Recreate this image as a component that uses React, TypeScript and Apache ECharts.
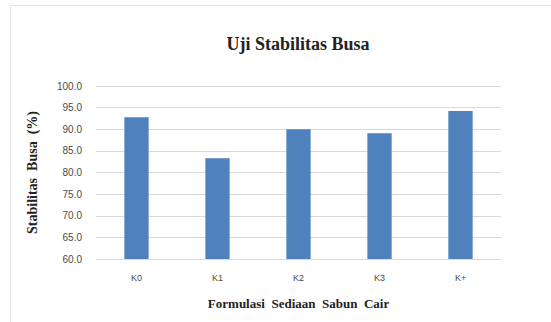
import React, { useEffect, useRef } from "react";
import * as echarts from "echarts";

const categories = ["K0", "K1", "K2", "K3", "K+"];
const stabilitas = [92.8, 83.3, 90.0, 89.1, 94.2];
const yMin = 60;
const yMax = 100;
const yStep = 5;

export default function App() {
  const ref = useRef<HTMLDivElement>(null);
  useEffect(() => {
    document.body.style.margin = "0";
    const chart = echarts.init(ref.current!, null, { renderer: "svg" });
    chart.setOption({
      animation: false,
      backgroundColor: "#ffffff",
      graphic: [
        {
          type: "rect",
          shape: { x: 10.5, y: 5.5, width: 600, height: 400 },
          style: { fill: "none", stroke: "#e4e4e4", lineWidth: 1 },
          silent: true,
        },
      ],
      title: {
        text: "Uji Stabilitas Busa",
        left: 293,
        top: 30,
        textAlign: "center",
        textStyle: {
          fontFamily: "Liberation Serif",
          fontWeight: "bold",
          fontSize: 18,
          color: "#222222",
        },
      },
      grid: { left: 96, right: 50, top: 86, bottom: 63 },
      xAxis: {
        type: "category",
        data: categories,
        name: "Formulasi  Sediaan  Sabun  Cair",
        nameLocation: "middle",
        nameGap: 38,
        nameTextStyle: {
          fontFamily: "Liberation Serif",
          fontWeight: "bold",
          fontSize: 13,
          color: "#222222",
        },
        axisLine: { show: true, lineStyle: { color: "#d9d9d9", width: 1 } },
        axisTick: { show: false },
        axisLabel: {
          fontFamily: "Liberation Sans",
          fontSize: 9,
          color: "#4a4a4a",
          margin: 14,
        },
      },
      yAxis: {
        type: "value",
        min: yMin,
        max: yMax,
        interval: yStep,
        name: "Stabilitas  Busa  (%)",
        nameLocation: "middle",
        nameGap: 57,
        nameRotate: 90,
        nameTextStyle: {
          fontFamily: "Liberation Serif",
          fontWeight: "bold",
          fontSize: 14,
          color: "#222222",
        },
        axisLine: { show: false },
        axisTick: { show: false },
        axisLabel: {
          fontFamily: "Liberation Sans",
          fontSize: 10,
          color: "#4a4a4a",
          margin: 14,
          formatter: (v: number) => v.toFixed(1),
        },
        splitLine: { lineStyle: { color: "#d9d9d9", width: 1 } },
      },
      series: [
        {
          type: "bar",
          data: stabilitas,
          barWidth: "30%",
          itemStyle: { color: "#4f81bd" },
        },
      ],
    });
    return () => chart.dispose();
  }, []);
  return (
    <div
      ref={ref}
      style={{ position: "absolute", left: 0, top: 0, width: 551, height: 322 }}
    />
  );
}
